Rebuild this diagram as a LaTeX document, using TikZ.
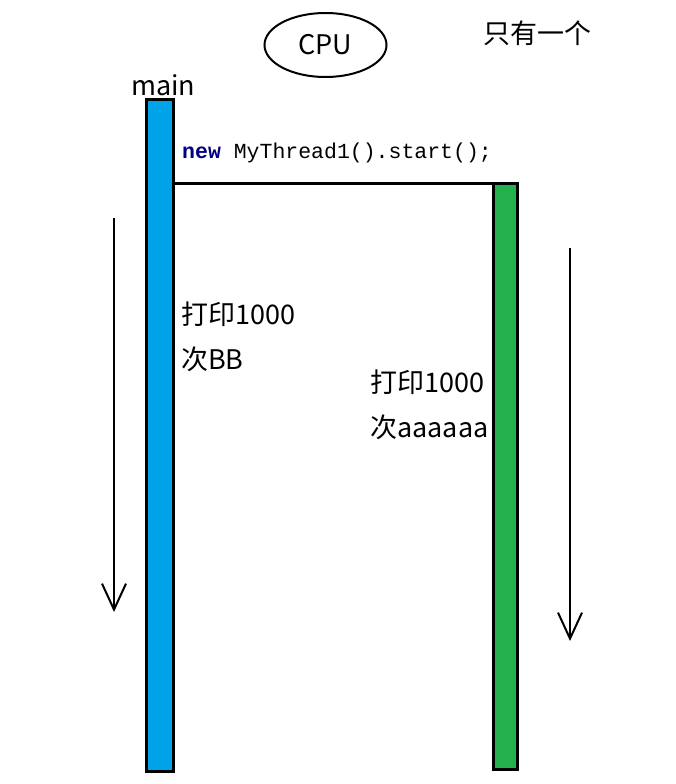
\documentclass[tikz,border=0pt]{standalone}
\usepackage{fontspec}
\setmainfont{Noto Sans CJK SC}
\setmonofont{Liberation Mono}
\usetikzlibrary{shapes.geometric,arrows.meta}
\definecolor{barblue}{HTML}{00A2E8}
\definecolor{bargreen}{HTML}{22B14C}
\definecolor{kwnavy}{HTML}{000080}
\begin{document}
\begin{tikzpicture}[x=1pt,y=-1pt,
  bar/.style={draw=black,line width=3pt,inner sep=0pt,outer sep=0pt,minimum width=#1},
  lbl/.style={anchor=base west,inner sep=0pt,font=\fontsize{27}{32}\selectfont},
  flow/.style={line width=2pt,-{Straight Barb[length=26pt,width=24pt,line width=2pt]}}]
\useasboundingbox (0,0) rectangle (676,784);
\node[draw,ellipse,line width=2pt,minimum width=122pt,minimum height=64pt,inner sep=0pt,
  font=\fontsize{27}{32}\selectfont] (cpu) at (325.5,45) {CPU};
\node[lbl] (one) at (483,44) {只有一个};
\node[lbl] (mainlbl) at (131,95) {main};
\node[bar=27pt,fill=barblue,minimum height=672pt] (mainbar) at (160,435.5) {};
\node[bar=24pt,fill=bargreen,minimum height=586pt] (thbar) at (505.5,476.5) {};
\draw[line width=3pt] (mainbar.east |- thbar.north west) -- (thbar.north west);
\node[anchor=base west,inner sep=0pt,font=\ttfamily\fontsize{21.5}{24}\selectfont] (code) at (182,158)
  {\textcolor{kwnavy}{\textbf{new}} MyThread1().start();};
\node[lbl] (p1a) at (181,324) {打印1000};
\node[lbl] (p1b) at (181,369) {次BB};
\node[lbl] (p2a) at (370,392) {打印1000};
\node[lbl] (p2b) at (370,437) {次aaaaaa};
\coordinate (a1s) at (114,218);
\coordinate (a1e) at (114,612);
\coordinate (a2s) at (570,248);
\coordinate (a2e) at (570,641);
\draw[flow] (a1s) -- (a1e);
\draw[flow] (a2s) -- (a2e);
\end{tikzpicture}
\end{document}
